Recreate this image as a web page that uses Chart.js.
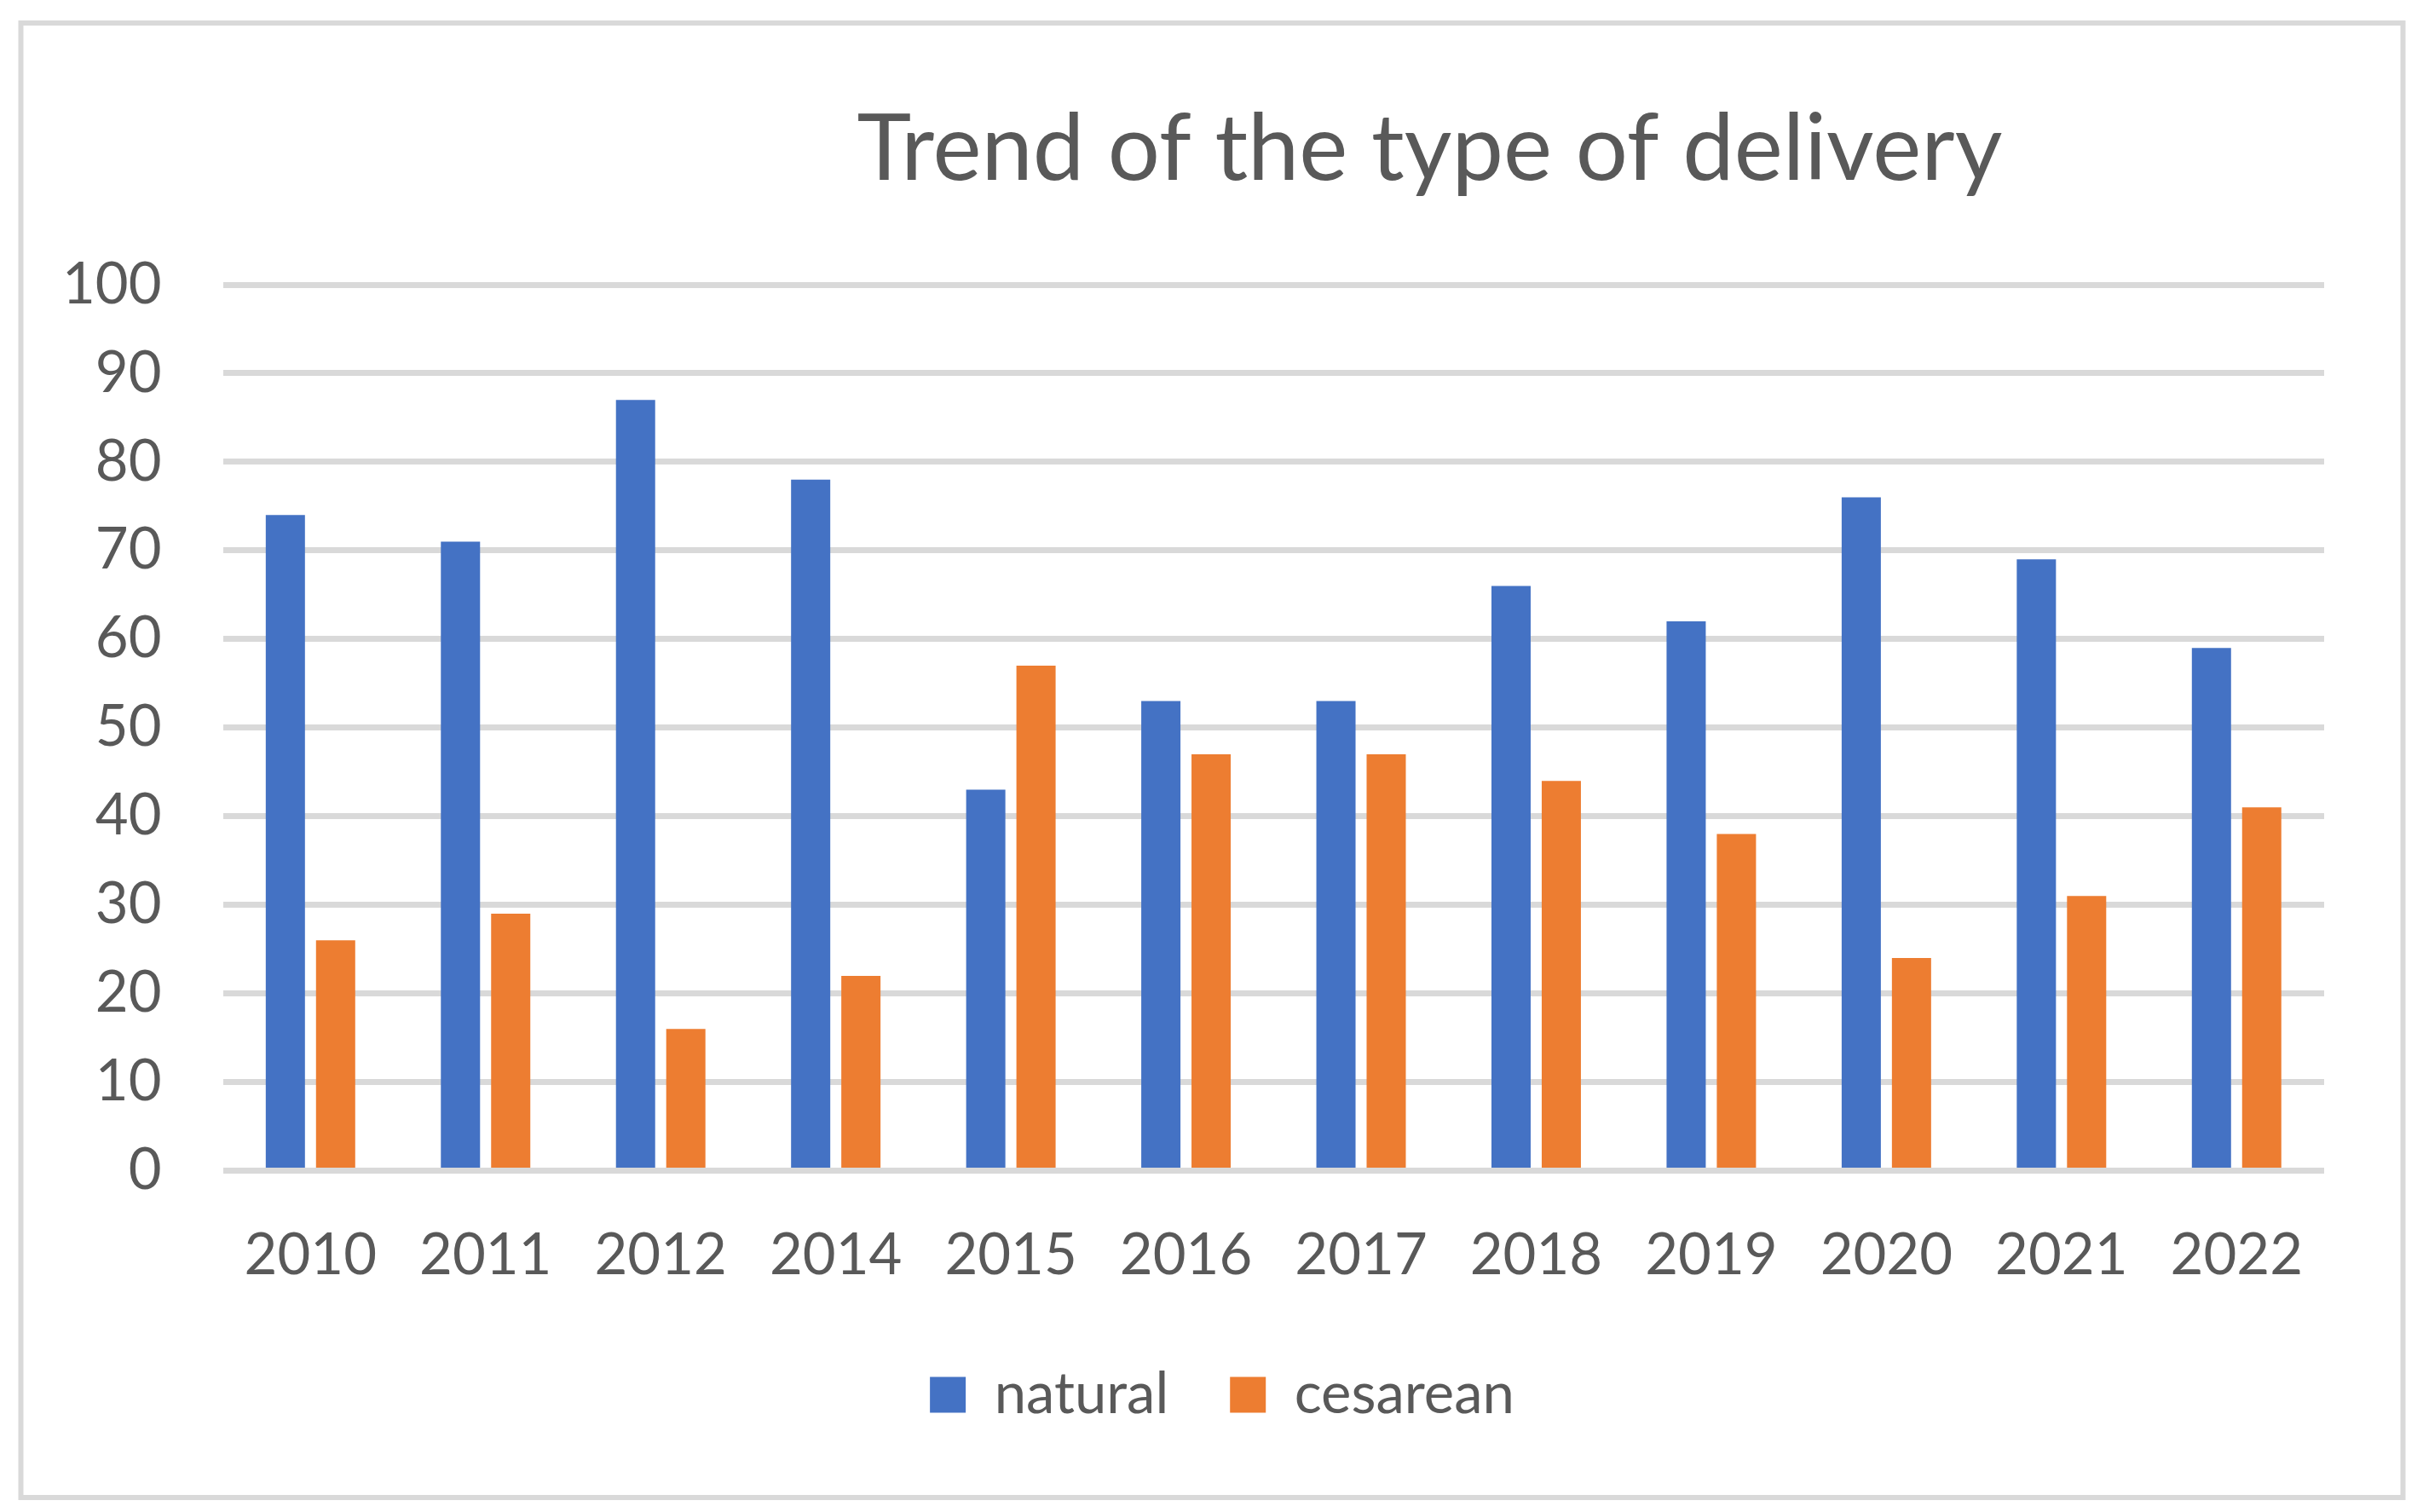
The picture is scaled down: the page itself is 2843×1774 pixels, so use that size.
<!DOCTYPE html>
<html>
<head>
<meta charset="utf-8">
<title>Trend of the type of delivery</title>
<script src="https://cdn.jsdelivr.net/npm/chart.js@4.4.1/dist/chart.umd.min.js"></script>
<style>
  html, body { margin: 0; padding: 0; background: #ffffff; overflow: hidden; }
  canvas { display: block; }
</style>
</head>
<body>
<canvas id="deliveryChart" width="2843" height="1774"></canvas>
<script>
const years = ["2010", "2011", "2012", "2014", "2015", "2016", "2017", "2018", "2019", "2020", "2021", "2022"];
const natural = [74, 71, 87, 78, 43, 53, 53, 66, 62, 76, 69, 59];
const cesarean = [26, 29, 16, 22, 57, 47, 47, 44, 38, 24, 31, 41];
const yTicks = [0, 10, 20, 30, 40, 50, 60, 70, 80, 90, 100];
const chartTitle = "Trend of the type of delivery";

const textColor = "#595959";
const gridColor = "#d9d9d9";
const fontFamily = "Lato, 'Liberation Sans', sans-serif";

// outer frame + title, drawn like the excel chart box
const frameAndTitle = {
    id: "frameAndTitle",
    beforeDraw(chart) {
        const ctx = chart.ctx;
        ctx.save();
        ctx.fillStyle = "#ffffff";
        ctx.fillRect(0, 0, chart.width, chart.height);
        ctx.strokeStyle = gridColor;
        ctx.lineWidth = 6;
        ctx.strokeRect(24.5, 27, chart.width - 48, chart.height - 44);
        ctx.restore();
    },
    afterDraw(chart) {
        const ctx = chart.ctx;
        ctx.save();
        ctx.fillStyle = textColor;
        ctx.font = "108px " + fontFamily;
        ctx.textAlign = "center";
        ctx.textBaseline = "alphabetic";
        ctx.fillText(chartTitle, chart.width * 0.59, 211);
        ctx.restore();
    }
};

// excel puts the legend a bit right of centre and closer to the axis labels
const nudgeLegend = {
    id: "nudgeLegend",
    afterLayout(chart) {
        const legend = chart.legend;
        if (!legend) return;
        legend.left += 70;
        legend.right += 70;
        legend.top -= 66;
        legend.bottom -= 66;
    }
};

new Chart(document.getElementById("deliveryChart"), {
    type: "bar",
    data: {
        labels: years,
        datasets: [
            {
                label: "natural",
                data: natural,
                backgroundColor: "#4472c4",
                borderWidth: 0,
                categoryPercentage: 0.574,
                barPercentage: 0.78
            },
            {
                label: "cesarean",
                data: cesarean,
                backgroundColor: "#ed7d31",
                borderWidth: 0,
                categoryPercentage: 0.574,
                barPercentage: 0.78
            }
        ]
    },
    options: {
        responsive: false,
        devicePixelRatio: 1,
        animation: false,
        layout: {
            padding: { top: 334, left: 1, right: 116, bottom: 28 }
        },
        plugins: {
            title: { display: false },
            tooltip: { enabled: false },
            legend: {
                display: true,
                position: "bottom",
                labels: {
                    boxWidth: 42,
                    boxHeight: 42,
                    padding: 72,
                    color: textColor,
                    font: { family: fontFamily, size: 67 }
                }
            }
        },
        scales: {
            x: {
                grid: { display: false },
                border: { display: false },
                ticks: {
                    color: textColor,
                    padding: 52,
                    maxRotation: 0,
                    font: { family: fontFamily, size: 67 }
                },
                afterFit(scale) {
                    scale.height += 31;
                }
            },
            y: {
                min: 0,
                max: 100,
                border: { display: false },
                grid: {
                    color: gridColor,
                    lineWidth: 7,
                    drawTicks: false
                },
                ticks: {
                    color: textColor,
                    padding: 72,
                    font: { family: fontFamily, size: 67 }
                },
                afterBuildTicks(axis) {
                    axis.ticks = yTicks.map(v => ({ value: v }));
                }
            }
        }
    },
    plugins: [frameAndTitle, nudgeLegend]
});
</script>
</body>
</html>
